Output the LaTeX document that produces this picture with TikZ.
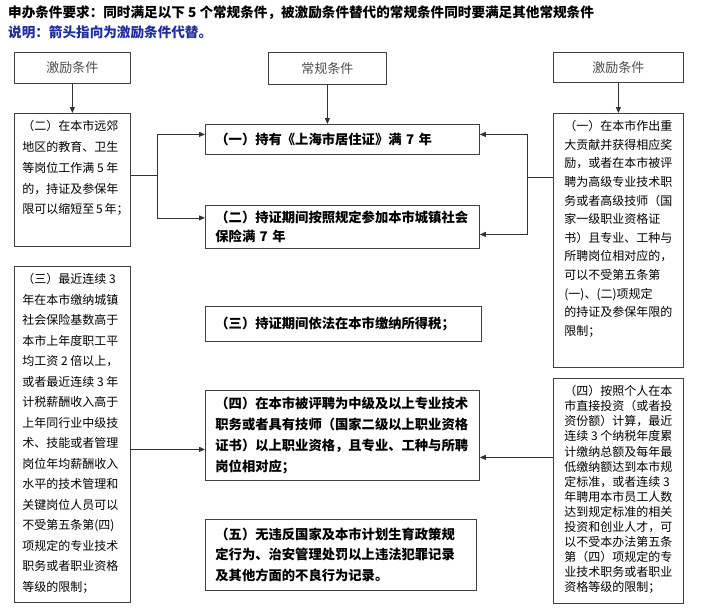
\documentclass[tikz,border=0pt]{standalone}
\usepackage{fontspec}
\setmainfont{Noto Sans CJK SC}
\usetikzlibrary{arrows.meta,positioning}
\definecolor{notecolor}{RGB}{30,45,160}
\newcommand{\toplines}[3]{\parbox[c][#1][t]{#2}{#3}}

\begin{document}
\begin{tikzpicture}[
  x=1pt, y=-1pt,
  box/.style={draw=black!75, line width=0.8pt},
  head/.style={box, anchor=north west, inner sep=0pt, font=\fontsize{13}{15}\selectfont, text=black!70},
  side/.style={box, anchor=north west, inner xsep=8pt, inner ysep=7pt, font=\fontsize{12}{20.8}\selectfont},
  cond/.style={box, anchor=north west, align=left, inner xsep=10pt, inner ysep=0pt, font=\fontsize{13.3}{21}\selectfont\bfseries},
  title/.style={anchor=west, inner sep=0pt, font=\fontsize{13.6}{15}\selectfont\bfseries},
  arrow/.style={-{Triangle[length=6pt,width=5pt]}, line width=0.8pt, black!80}
]
\useasboundingbox (0,0) rectangle (710,616);

\node[title] (req) at (8,13) {申办条件要求：同时满足以下 5 个常规条件，被激励条件替代的常规条件同时要满足其他常规条件};
\node[title, text=notecolor] (expl) at (8,32) {说明：箭头指向为激励条件代替。};

% column heads
\node[head, minimum width=116pt, minimum height=31pt] (lhead) at (14,52) {激励条件};
\node[head, minimum width=118pt, minimum height=32pt] (chead) at (268,52) {常规条件};
\node[head, minimum width=130pt, minimum height=30pt] (rhead) at (553,52) {激励条件};

% incentive conditions, left
\node[side] (incl2) at (14,113) {\toplines{119pt}{100pt}{%
  （二）在本市远郊\\
  地区的教育、卫生\\
  等岗位工作满~5~年\\
  的，持证及参保年\\
  限可以缩短至~5~年；}};
\node[side, font=\fontsize{12}{20.5}\selectfont] (incl3) at (14,266) {\toplines{322pt}{100pt}{%
  （三）最近连续~3\\
  年在本市缴纳城镇\\
  社会保险基数高于\\
  本市上年度职工平\\
  均工资~2~倍以上，\\
  或者最近连续~3~年\\
  计税薪酬收入高于\\
  上年同行业中级技\\
  术、技能或者管理\\
  岗位年均薪酬收入\\
  水平的技术管理和\\
  关键岗位人员可以\\
  不受第五条第(四)\\
  项规定的专业技术\\
  职务或者职业资格\\
  等级的限制；}};

% incentive conditions, right
\node[side, inner xsep=11pt, font=\fontsize{12}{18.6}\selectfont] (incr1) at (553,113) {\toplines{240pt}{108pt}{%
  （一）在本市作出重\\
  大贡献并获得相应奖\\
  励，或者在本市被评\\
  聘为高级专业技术职\\
  务或者高级技师（国\\
  家一级职业资格证\\
  书）且专业、工种与\\
  所聘岗位相对应的，\\
  可以不受第五条第\\
  (一)、(二)项规定\\
  的持证及参保年限的\\
  限制；}};
\node[side, inner xsep=11pt, font=\fontsize{12}{15.1}\selectfont] (incr4) at (553,378) {\toplines{211pt}{108pt}{%
  （四）按照个人在本\\
  市直接投资（或者投\\
  资份额）计算，最近\\
  连续~3~个纳税年度累\\
  计缴纳总额及每年最\\
  低缴纳额达到本市规\\
  定标准，或者连续~3\\
  年聘用本市员工人数\\
  达到规定标准的相关\\
  投资和创业人才，可\\
  以不受本办法第五条\\
  第（四）项规定的专\\
  业技术职务或者职业\\
  资格等级的限制；}};

% regular conditions
\node[cond, text width=254pt, minimum height=30pt] (reg1) at (205,124) {（一）持有《上海市居住证》满~7~年};
\node[cond, text width=254pt, minimum height=43pt, font=\fontsize{13.3}{19}\selectfont\bfseries] (reg2) at (205,205) {（二）持证期间按照规定参加本市城镇社会\\保险满~7~年};
\node[cond, text width=256pt, minimum height=35pt] (reg3) at (205,306) {（三）持证期间依法在本市缴纳所得税；};
\node[cond, text width=254pt, minimum height=90pt] (reg4) at (205,390) {（四）在本市被评聘为中级及以上专业技术\\职务或者具有技师（国家二级以上职业资格\\证书）以上职业资格，且专业、工种与所聘\\岗位相对应；};
\node[cond, text width=251pt, minimum height=71pt, font=\fontsize{13.3}{20.5}\selectfont\bfseries] (reg5) at (205,519) {（五）无违反国家及本市计划生育政策规\\定行为、治安管理处罚以上违法犯罪记录\\及其他方面的不良行为记录。};

\draw[arrow] (lhead) -- (incl2);
\draw[arrow] (rhead) -- (incr1);
\draw[arrow] (chead.south) -- (chead.south |- reg1.north);

\coordinate (lj) at (157,175);
\draw[line width=0.8pt, black!80] (incl2.east |- lj) -- (lj);
\draw[arrow] (lj) |- ([yshift=5pt]reg1.west);
\draw[arrow] (lj) |- ([yshift=9pt]reg2.west);

\coordinate (rj) at (527,177);
\draw[line width=0.8pt, black!80] (incr1.west |- rj) -- (rj);
\draw[arrow] (rj) |- ([yshift=5pt]reg1.east);
\draw[arrow] (rj) |- ([yshift=-7.5pt]reg2.east);

\coordinate (l4) at ([yshift=-14pt]reg4.west);
\draw[arrow] (incl3.east |- l4) -- (l4);
\coordinate (r4) at ([yshift=-22pt]reg4.east);
\draw[arrow] (incr4.west |- r4) -- (r4);

\end{tikzpicture}
\end{document}
